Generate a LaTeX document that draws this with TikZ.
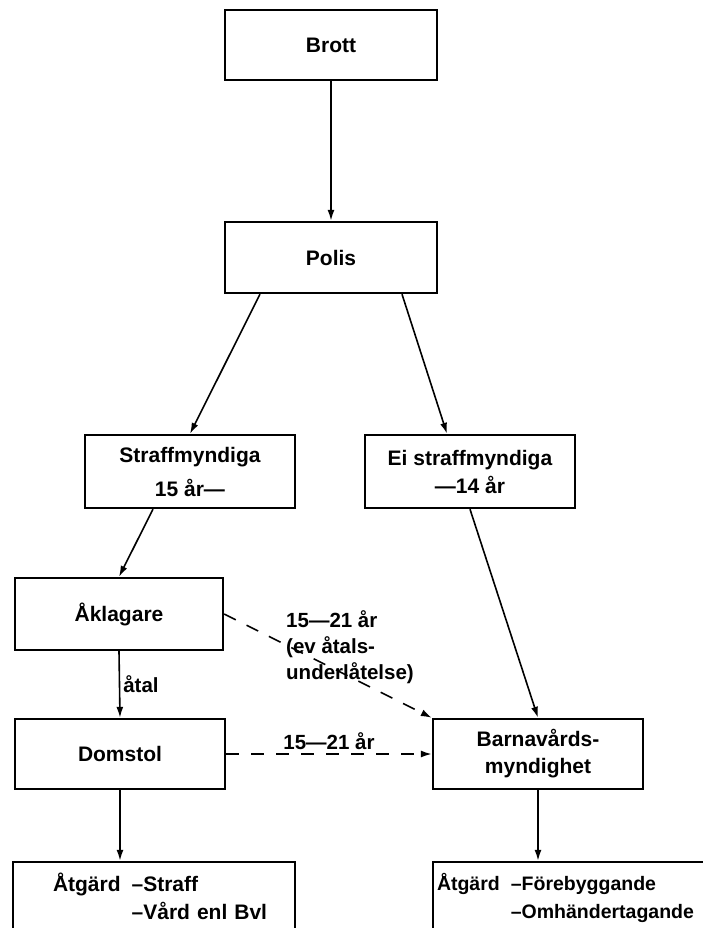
\documentclass[tikz,border=0pt]{standalone}
\usepackage{fontspec}
\setmainfont{Liberation Sans}
\usetikzlibrary{arrows.meta}
\tikzset{
    box/.style={draw, line width=2.4pt, minimum width=210pt, minimum height=72pt,
        align=center, font=\fontsize{21}{27}\selectfont\bfseries},
    actionbox/.style={box, minimum width=282pt, text width=274pt, inner xsep=4pt, align=left},
    arr/.style={-{Latex[length=11pt,width=7pt]}, line width=1.6pt},
    dasharr/.style={arr, dash pattern=on 13pt off 12pt},
    lbl/.style={font=\fontsize{20.5}{26}\selectfont\bfseries, align=left, inner sep=3pt}
}
\begin{document}
\begin{tikzpicture}[x=1pt, y=-1pt]
        \useasboundingbox (0,0) rectangle (703,928);
        \clip (0,0) rectangle (703,928);
        % boxes
        \node[box, minimum width=212pt, minimum height=70pt] (brott) at (331,45) {Brott};
        \node[box, minimum width=212pt, minimum height=71pt] (polis) at (331,257.5) {Polis};
        \node[box, minimum height=73pt] (straff) at (190,471.5) {Straffmyndiga\\[7pt]15 år—};
        \node[box, minimum height=73pt] (eistraff) at (470,471.5) {Ei straffmyndiga\\[1pt]—14 år};
        \node[box, minimum width=208pt] (aklagare) at (119,614) {Åklagare};
        \node[box, minimum height=70pt] (domstol) at (120,754) {Domstol};
        \node[box, minimum height=70pt] (barnavard) at (538,754) {Barnavårds-\\myndighet};
        \node[actionbox] (atgardL) at (154,898)
            {\hspace*{36pt}Åtgärd\hspace{11pt}–Straff\\[1pt]\hspace*{36pt}\phantom{Åtgärd}\hspace{11pt}–Vård enl Bvl};
        \node[actionbox, font=\fontsize{19.5}{27}\selectfont\bfseries] (atgardR) at (574,898)
            {\mbox{Åtgärd\hspace{11pt}–Förebyggande}\\[1pt]\mbox{\phantom{Åtgärd}\hspace{11pt}–Omhändertagande}};
        % arrows
        \draw[arr] (brott.south) -- (polis.north);
        \draw[arr] ([xshift=-71pt]polis.south) -- (straff.north);
        \draw[arr] ([xshift=71pt]polis.south) -- ([xshift=-23pt]eistraff.north);
        \draw[arr] ([xshift=-37pt]straff.south) -- (aklagare.north);
        \draw[arr] (eistraff.south) -- (barnavard.north);
        \draw[arr] (aklagare.south) -- node[lbl, right] (atal) {åtal} (domstol.south |- domstol.north);
        \draw[arr] (domstol.south) -- (domstol.south |- atgardL.north);
        \draw[arr] (barnavard.south) -- (barnavard.south |- atgardR.north);
        % dashed
        \draw[dasharr] (aklagare.east) -- (barnavard.north west);
        \draw[dasharr] (domstol.east) -- node[lbl, midway, above, inner sep=4pt] (aldernedre) {15—21 år} (barnavard.west);
        \node[lbl, anchor=west] (alderovre) at (283,647) {15—21 år\\(ev åtals-\\underlåtelse)};
    \end{tikzpicture}
\end{document}
